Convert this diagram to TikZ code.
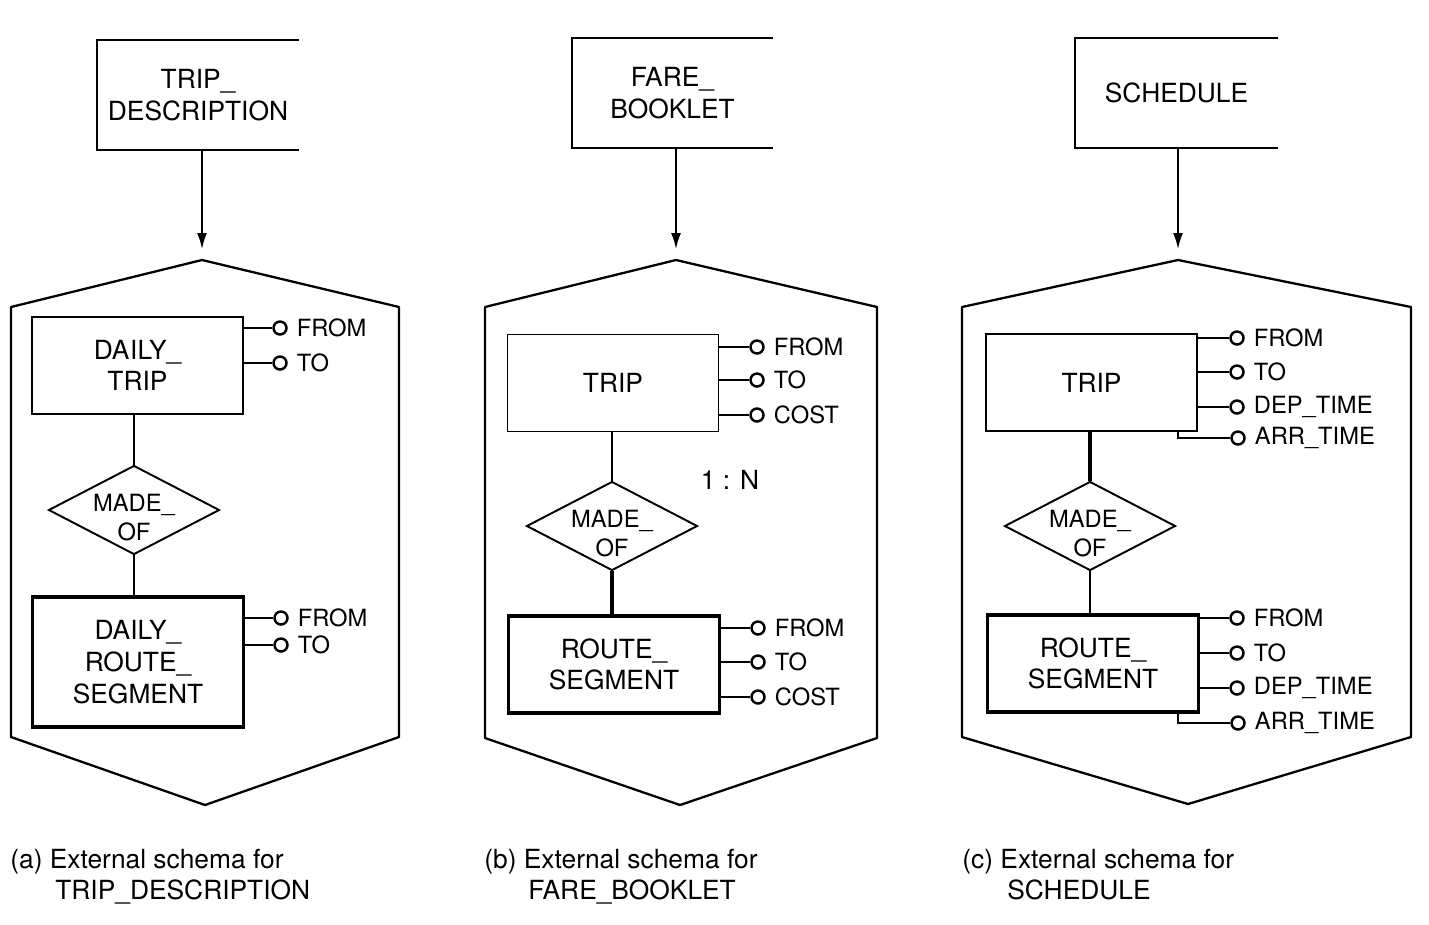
\documentclass[tikz,border=0pt]{standalone}
\usepackage{fontspec}
\setmainfont{TeX Gyre Heros}
\usepackage{tikz}
\usetikzlibrary{shapes.geometric, arrows.meta, positioning, calc}

\newcommand{\entfont}{\fontsize{15}{18}\selectfont}
\newcommand{\attfont}{\fontsize{13.5}{17}\selectfont}

\begin{document}
\begin{tikzpicture}[
    x=0.02cm, y=-0.02cm,
    >={Latex[length=0.32cm,width=0.2cm]},
    view/.style={rectangle, minimum width=4.02cm, minimum height=2.2cm, align=center, font=\entfont},
    entity/.style={draw, rectangle, line width=1.1pt, minimum width=4.22cm, minimum height=1.94cm, align=center, font=\entfont},
    segment/.style={entity, line width=2pt},
    rel/.style={draw, diamond, inner sep=0pt, minimum width=3.42cm, minimum height=1.78cm, line width=1.1pt,
        label={[font=\attfont, align=center, yshift=-0.15cm]center:MADE\_\\OF}},
    attr/.style={draw, circle, inner sep=0pt, minimum size=0.26cm, line width=1.4pt, label={[font=\attfont, label distance=0.06cm]right:#1}},
    link/.style={line width=1.2pt},
    hull/.style={line width=1.3pt, line join=round},
    caption/.style={anchor=base west, inner sep=0pt, font=\fontsize{15}{17}\selectfont}
]
\useasboundingbox (0,0) rectangle (1429,924);

% (a) TRIP_DESCRIPTION
\node[view] (tdesc) at (198, 95) {TRIP\_\\DESCRIPTION};
\draw[link] (tdesc.north east) -- (tdesc.north west) -- (tdesc.south west) -- (tdesc.south east);
\coordinate (topA) at (202, 260);
\coordinate (botA) at (205, 805);
\draw[hull] (topA) -- (399, 307) -- (399, 737) -- (botA) -- (11, 737) -- (11, 307) -- cycle;
\draw[->, line width=1pt, shorten >=0.22cm] (tdesc.south -| topA) -- (topA);

\node[entity] (dtrip) at (137.5, 365.5) {DA{\kern0.5pt}ILY\_\\TRIP};
\node[rel] (madeA) at (134, 510) {};
\node[segment, minimum height=2.6cm] (dseg) at (138, 662) {DAILY\_\\ROUTE\_\\SEGMENT};
\draw[link] (madeA.north |- dtrip.south) -- (madeA.north);
\draw[link] (madeA.south) -- (madeA.south |- dseg.north);

\node[attr=FROM] (dtripfrom) at (280, 328) {};
\node[attr=TO] (dtripto) at (280, 363) {};
\node[attr=FROM] (dsegfrom) at (281, 618) {};
\node[attr=TO] (dsegto) at (281, 645) {};
\draw[link] (dtrip.east |- dtripfrom) -- (dtripfrom);
\draw[link] (dtrip.east |- dtripto) -- (dtripto);
\draw[link] (dseg.east |- dsegfrom) -- (dsegfrom);
\draw[link] (dseg.east |- dsegto) -- (dsegto);

\node[caption] (capA) at (10, 868) {(a) External schema for};
\node[caption] (capAname) at (55, 899) {TRIP\_DESCRIPTION};

% (b) FARE_BOOKLET
\node[view] (fare) at (672.5, 93) {FARE\_\\BOOKLET};
\draw[link] (fare.north east) -- (fare.north west) -- (fare.south west) -- (fare.south east);
\coordinate (topB) at (676, 260);
\coordinate (botB) at (680, 805);
\draw[hull] (topB) -- (877, 307) -- (877, 738) -- (botB) -- (485, 738) -- (485, 307) -- cycle;
\draw[->, line width=1pt, shorten >=0.22cm] (fare.south -| topB) -- (topB);

\node[entity] (tripB) at (613, 383) {TRIP};
\node[rel] (madeB) at (612, 526) {};
\node[segment] (segB) at (614, 664.5) {ROUTE\_\\SEGMENT};
\draw[link] (madeB.north |- tripB.south) -- (madeB.north);
\draw[line width=2pt] (madeB.south) -- (madeB.south |- segB.north);
\node[font=\entfont] (cardB) at (730, 480) {1 : N};

\node[attr=FROM] (tripBfrom) at (757, 347) {};
\node[attr=TO] (tripBto) at (757, 380) {};
\node[attr=COST] (tripBcost) at (757, 415) {};
\node[attr=FROM] (segBfrom) at (758, 628) {};
\node[attr=TO] (segBto) at (758, 662) {};
\node[attr=COST] (segBcost) at (758, 697) {};
\draw[link] (tripB.east |- tripBfrom) -- (tripBfrom);
\draw[link] (tripB.east |- tripBto) -- (tripBto);
\draw[link] (tripB.east |- tripBcost) -- (tripBcost);
\draw[link] (segB.east |- segBfrom) -- (segBfrom);
\draw[link] (segB.east |- segBto) -- (segBto);
\draw[link] (segB.east |- segBcost) -- (segBcost);

\node[caption] (capB) at (484, 868) {(b) External schema for};
\node[caption] (capBname) at (528, 899) {FARE\_BOOKLET};

% (c) SCHEDULE
\node[view, minimum width=4.06cm] (sched) at (1176.5, 93) {SCHEDULE};
\draw[link] (sched.north east) -- (sched.north west) -- (sched.south west) -- (sched.south east);
\coordinate (topC) at (1178, 260);
\coordinate (botC) at (1188, 804);
\draw[hull] (topC) -- (1411, 307) -- (1411, 737) -- (botC) -- (962, 737) -- (962, 307) -- cycle;
\draw[->, line width=1pt, shorten >=0.22cm] (sched.south -| topC) -- (topC);

\node[entity] (tripC) at (1091.5, 382.5) {TRIP};
\node[rel] (madeC) at (1090, 526) {};
\node[segment] (segC) at (1093, 663.5) {ROUTE\_\\SEGMENT};
\draw[line width=2pt] (madeC.north |- tripC.south) -- (madeC.north);
\draw[link] (madeC.south) -- (madeC.south |- segC.north);

\node[attr=FROM] (tripCfrom) at (1237, 338) {};
\node[attr=TO] (tripCto) at (1237, 372) {};
\node[attr=DEP\_TIME] (tripCdep) at (1237, 407) {};
\node[attr=ARR\_TIME] (tripCarr) at (1238, 438) {};
\node[attr=FROM] (segCfrom) at (1237, 618) {};
\node[attr=TO] (segCto) at (1237, 653) {};
\node[attr=DEP\_TIME] (segCdep) at (1237, 688) {};
\node[attr=ARR\_TIME] (segCarr) at (1238, 723) {};
\draw[link] (tripC.east |- tripCfrom) -- (tripCfrom);
\draw[link] (tripC.east |- tripCto) -- (tripCto);
\draw[link] (tripC.east |- tripCdep) -- (tripCdep);
\draw[link] ([xshift=-0.4cm]tripC.south east) |- (tripCarr);
\draw[link] (segC.east |- segCfrom) -- (segCfrom);
\draw[link] (segC.east |- segCto) -- (segCto);
\draw[link] (segC.east |- segCdep) -- (segCdep);
\draw[link] ([xshift=-0.44cm]segC.south east) |- (segCarr);

\node[caption] (capC) at (962, 868) {(c) External schema for};
\node[caption] (capCname) at (1007, 899) {SCHEDULE};

\end{tikzpicture}
\end{document}
